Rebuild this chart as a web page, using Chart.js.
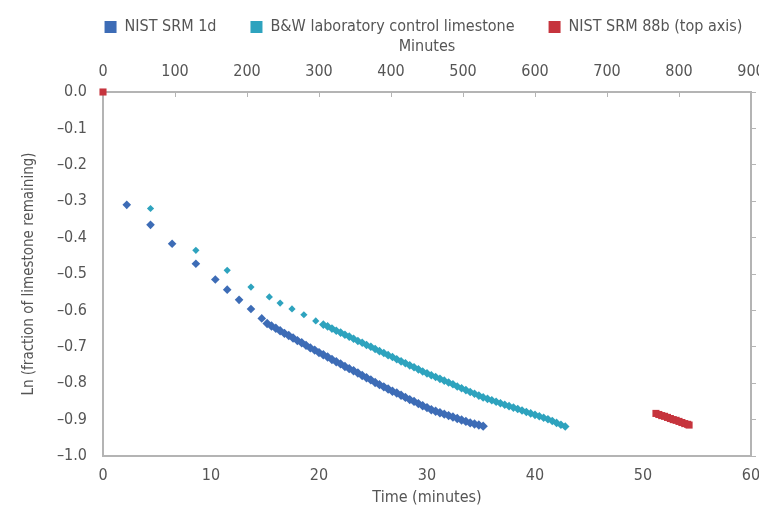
<!DOCTYPE html>
<html>
<head>
<meta charset="utf-8">
<script src="https://cdn.jsdelivr.net/npm/chart.js@4/dist/chart.umd.min.js"></script>
<style>
html,body{margin:0;padding:0;background:#fff;}
#wrap{width:759px;height:507px;}
</style>
</head>
<body>
<div id="wrap"><canvas id="c" width="759" height="507"></canvas></div>
<script>
// ---- data ----
const seriesNames = ['NIST SRM 1d', 'B&W laboratory control limestone', 'NIST SRM 88b (top axis)'];

// NIST SRM 1d (bottom axis, minutes)
const srm1dTime = [2.2, 4.4, 6.4, 8.6, 10.4, 11.5, 12.6, 13.7, 14.7,
  15.2, 15.6, 16.0, 16.4, 16.8, 17.2, 17.6, 18.0, 18.4, 18.8, 19.2, 19.6,
  20.0, 20.4, 20.8, 21.2, 21.6, 22.0, 22.4, 22.8, 23.2, 23.6, 24.0, 24.4, 24.8,
  25.2, 25.6, 26.0, 26.4, 26.8, 27.2, 27.6, 28.0, 28.4, 28.8, 29.2, 29.6,
  30.0, 30.4, 30.8, 31.2, 31.6, 32.0, 32.4, 32.8, 33.2, 33.6, 34.0, 34.4, 34.8, 35.2];
const srm1dLn = [-0.310, -0.365, -0.417, -0.472, -0.515, -0.543, -0.571, -0.596, -0.622,
  -0.636, -0.643, -0.649, -0.656, -0.663, -0.669, -0.676, -0.683, -0.689, -0.696, -0.703, -0.709,
  -0.716, -0.722, -0.728, -0.735, -0.741, -0.747, -0.754, -0.760, -0.766, -0.772, -0.779, -0.785, -0.791,
  -0.798, -0.804, -0.810, -0.816, -0.822, -0.827, -0.833, -0.839, -0.845, -0.850, -0.856, -0.862,
  -0.867, -0.873, -0.877, -0.881, -0.885, -0.889, -0.893, -0.897, -0.901, -0.905, -0.909, -0.912, -0.915, -0.918];

// B&W laboratory control limestone (bottom axis, minutes)
const bwTime = [4.4, 8.6, 11.5, 13.7, 15.4, 16.4, 17.5, 18.6, 19.7,
  20.4, 20.8, 21.2, 21.6, 22.0, 22.4, 22.8, 23.2, 23.6, 24.0, 24.4, 24.8,
  25.2, 25.6, 26.0, 26.4, 26.8, 27.2, 27.6, 28.0, 28.4, 28.8, 29.2, 29.6,
  30.0, 30.4, 30.8, 31.2, 31.6, 32.0, 32.4, 32.8, 33.2, 33.6, 34.0, 34.4, 34.8,
  35.2, 35.6, 36.0, 36.4, 36.8, 37.2, 37.6, 38.0, 38.4, 38.8, 39.2, 39.6,
  40.0, 40.4, 40.8, 41.2, 41.6, 42.0, 42.4, 42.8];
const bwLn = [-0.320, -0.435, -0.490, -0.536, -0.563, -0.580, -0.596, -0.612, -0.629,
  -0.639, -0.644, -0.650, -0.656, -0.661, -0.667, -0.672, -0.678, -0.684, -0.689, -0.695, -0.700,
  -0.706, -0.712, -0.717, -0.723, -0.728, -0.734, -0.740, -0.745, -0.751, -0.756, -0.762, -0.768,
  -0.773, -0.778, -0.783, -0.788, -0.793, -0.798, -0.803, -0.809, -0.814, -0.819, -0.824, -0.829, -0.834,
  -0.839, -0.843, -0.847, -0.851, -0.855, -0.859, -0.863, -0.867, -0.871, -0.875, -0.879, -0.883,
  -0.887, -0.891, -0.895, -0.899, -0.904, -0.909, -0.914, -0.919];

// NIST SRM 88b (top axis, minutes)
const srm88bMinutes = [0, 768, 772, 776, 780, 784, 788, 792, 796, 800, 804, 808, 812, 814];
const srm88bLn = [0, -0.883, -0.886, -0.889, -0.891, -0.894, -0.897, -0.900, -0.902, -0.905, -0.908, -0.911, -0.913, -0.915];

// axis ticks
const bottomTicks = [0, 10, 20, 30, 40, 50, 60];
const topTicks = [0, 100, 200, 300, 400, 500, 600, 700, 800, 900];
const yTicks = [0.0, -0.1, -0.2, -0.3, -0.4, -0.5, -0.6, -0.7, -0.8, -0.9, -1.0];

const colors = ['#3d6cb6', '#2ea3be', '#c6343d'];
const FONT = "'DejaVu Sans Condensed', 'DejaVu Sans', sans-serif";
const TXT = '#555555';
const AX = '#b4b4b4';
const LEGEND_PAD = 34;
const LEGEND_H = 25;
const TOP_PAD = 11;
const SPARSE = 9; // number of early, widely spaced readings in each of the first two series

function pts(xs, ys){ return xs.map((x,i)=>({x:x, y:ys[i]})); }
function fixTicks(list){ return function(scale){ scale.ticks = list.map(v=>({value:v})); }; }
function noPad(s){ s.paddingLeft = 0; s.paddingRight = 0; }

const shiftLegend = {
  id: 'shiftLegend',
  afterLayout(chart){
    const lg = chart.legend;
    if (lg) { lg.left += 44; lg.right += 44; lg.top -= 26; lg.bottom = lg.top + 70; }
  }
};

const chart = new Chart(document.getElementById('c'), {
  type: 'scatter',
  plugins: [shiftLegend],
  data: {
    datasets: [
      { label: seriesNames[0], data: pts(srm1dTime, srm1dLn), xAxisID: 'x', yAxisID: 'y', clip: false,
        pointStyle: 'rectRot', pointRadius: (c) => c.dataIndex < SPARSE ? 4.3 : 4.7,
        backgroundColor: colors[0], borderColor: colors[0], borderWidth: 0 },
      { label: seriesNames[1], data: pts(bwTime, bwLn), xAxisID: 'x', yAxisID: 'y', clip: false,
        pointStyle: 'rectRot', pointRadius: (c) => c.dataIndex < SPARSE ? 3.6 : 4.3,
        backgroundColor: colors[1], borderColor: colors[1], borderWidth: 0 },
      { label: seriesNames[2], data: pts(srm88bMinutes, srm88bLn), xAxisID: 'x2', yAxisID: 'y', clip: false,
        pointStyle: 'rect', pointRadius: 5, backgroundColor: colors[2], borderColor: colors[2], borderWidth: 0 }
    ]
  },
  options: {
    responsive: false,
    animation: false,
    devicePixelRatio: 1,
    layout: { padding: { left: 0, right: 0, top: TOP_PAD, bottom: 0 } },
    plugins: {
      tooltip: { enabled: false },
      legend: {
        display: true,
        position: 'top',
        maxHeight: LEGEND_H,
        labels: {
          usePointStyle: false, boxWidth: 12, boxHeight: 12, padding: LEGEND_PAD,
          color: TXT, font: { family: FONT, size: 16 }
        }
      }
    },
    scales: {
      x: {
        type: 'linear', position: 'bottom', min: 0, max: 60,
        afterBuildTicks: fixTicks(bottomTicks),
        afterFit: function(s){ s.height = 51; noPad(s); },
        grid: { display: false },
        border: { display: true, color: AX, width: 2 },
        ticks: { color: TXT, font: { family: FONT, size: 16 }, padding: 2, maxRotation: 0 },
        title: { display: true, text: 'Time (minutes)', color: TXT, font: { family: FONT, size: 16 }, padding: { top: 0, bottom: 0 } }
      },
      x2: {
        type: 'linear', position: 'top', min: 0, max: 900,
        afterBuildTicks: fixTicks(topTicks),
        afterFit: function(s){
          const lh = (s.chart.legend && s.chart.legend.height) ? s.chart.legend.height : LEGEND_H;
          s.height = 92 - TOP_PAD - lh; noPad(s);
        },
        grid: { display: true, drawOnChartArea: false, drawTicks: true, tickLength: -5, color: AX, lineWidth: 1 },
        border: { display: true, color: AX, width: 2 },
        ticks: { color: TXT, font: { family: FONT, size: 16 }, padding: 16, maxRotation: 0 },
        title: { display: true, text: 'Minutes', color: TXT, font: { family: FONT, size: 16 }, padding: { top: 1, bottom: 0 } }
      },
      y: {
        type: 'linear', position: 'left', min: -1, max: 0,
        afterBuildTicks: fixTicks(yTicks),
        afterFit: function(s){ s.width = 103; },
        grid: { display: false },
        border: { display: true, color: AX, width: 2 },
        ticks: { color: TXT, font: { family: FONT, size: 16 }, padding: 8,
          callback: function(v){ return (v < -0.0001 ? '\u2013' : '') + Math.abs(v).toFixed(1); } },
        title: { display: true, text: 'Ln (fraction of limestone remaining)', color: TXT, font: { family: FONT, size: 15 }, padding: { top: 20, bottom: 0 } }
      },
      y2: {
        type: 'linear', position: 'right', min: -1, max: 0,
        afterBuildTicks: fixTicks(yTicks),
        afterFit: function(s){ s.width = 8; },
        grid: { display: true, drawOnChartArea: false, drawTicks: true, tickLength: 5, color: AX, lineWidth: 1 },
        border: { display: true, color: AX, width: 2 },
        ticks: { display: false }
      }
    }
  }
});
</script>
</body>
</html>
